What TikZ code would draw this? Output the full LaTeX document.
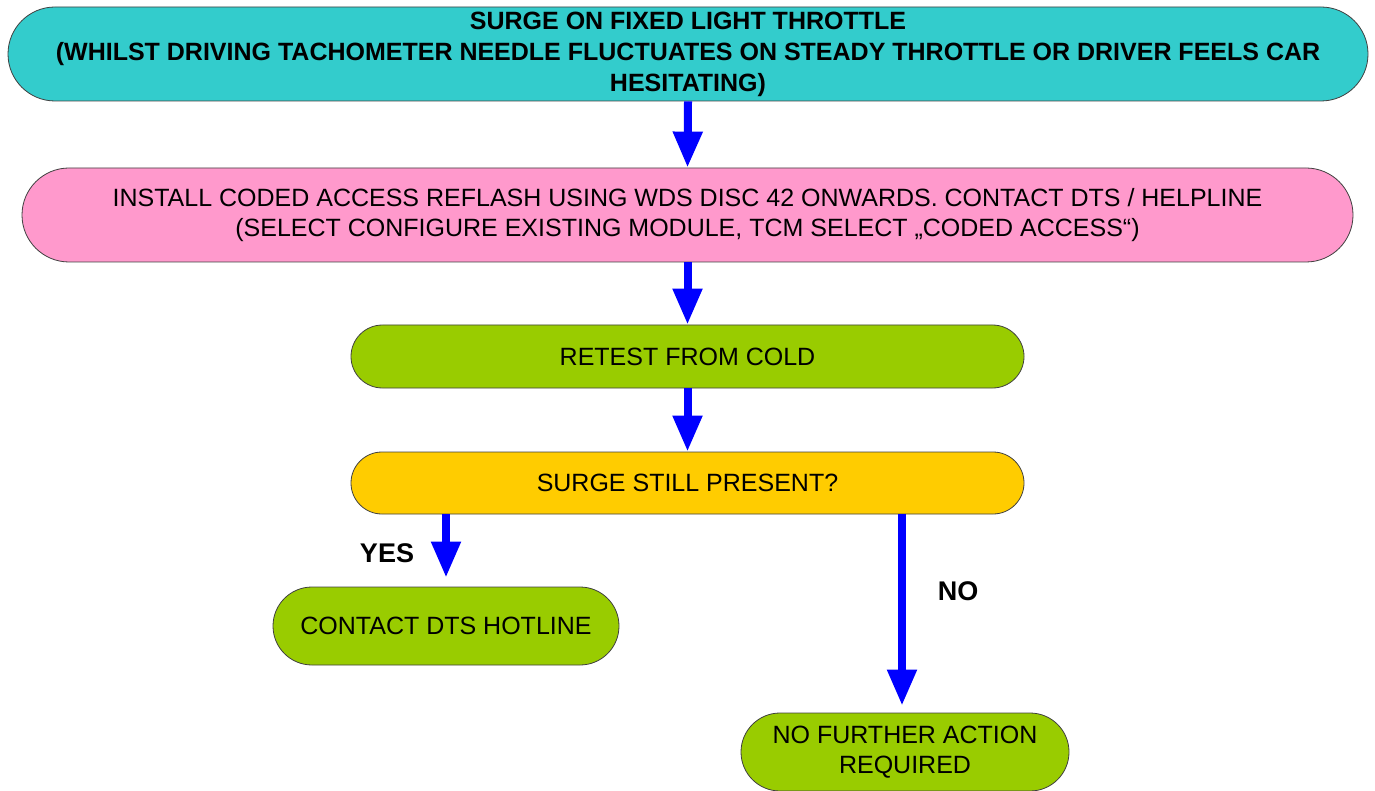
\documentclass[tikz,border=0pt]{standalone}
\usepackage{fontspec}
\setmainfont{Liberation Sans}
\usetikzlibrary{arrows.meta}
\definecolor{cteal}{HTML}{33CCCC}
\definecolor{cpink}{HTML}{FF99CC}
\definecolor{cgreen}{HTML}{99CC00}
\definecolor{cyellow}{HTML}{FFCC00}
\definecolor{cblue}{HTML}{0000FF}
\begin{document}
\begin{tikzpicture}[x=1pt,y=-1pt,
  box/.style={draw=black!75, line width=0.8pt, inner sep=0pt, align=center,
    font=\fontsize{25}{30}\selectfont},
  arr/.style={draw=cblue, line width=8pt,
    -{Triangle[width=28pt,length=36pt]}, fill=cblue},
  lbl/.style={font=\fontsize{27}{30}\selectfont\bfseries, inner sep=0pt}]
\useasboundingbox (0,0) rectangle (1375,791);
\node[box, fill=cteal, minimum width=1360pt, minimum height=94pt, rounded corners=47pt,
  font=\fontsize{25}{31}\selectfont\bfseries] (n1) at (688,54)
  {SURGE ON FIXED LIGHT THROTTLE\\
   (WHILST DRIVING TACHOMETER NEEDLE FLUCTUATES ON STEADY THROTTLE OR DRIVER FEELS CAR\\
   HESITATING)};
\node[box, fill=cpink, minimum width=1331pt, minimum height=94pt, rounded corners=47pt] (n2) at (687.5,215)
  {INSTALL CODED ACCESS REFLASH USING WDS DISC 42 ONWARDS. CONTACT DTS / HELPLINE\\
   (SELECT CONFIGURE EXISTING MODULE, TCM SELECT „CODED ACCESS“)};
\node[box, fill=cgreen, minimum width=673pt, minimum height=63pt, rounded corners=31.5pt] (n3) at (687.5,356.5)
  {RETEST FROM COLD};
\node[box, fill=cyellow, minimum width=673pt, minimum height=62pt, rounded corners=31pt] (n4) at (687.5,483)
  {SURGE STILL PRESENT?};
\node[box, fill=cgreen, minimum width=346pt, minimum height=78pt, rounded corners=39pt] (n5) at (446,626)
  {CONTACT DTS HOTLINE};
\node[box, fill=cgreen, minimum width=328pt, minimum height=78pt, rounded corners=39pt] (n6) at (905,752)
  {NO FURTHER ACTION\\REQUIRED};
\draw[arr] (n1.south) -- (n2.north);
\draw[arr] (n2.south) -- (n3.north);
\draw[arr] (n3.south) -- (n4.north);
\draw[arr, shorten >=9pt] (n5.north |- n4.south) -- (n5.north);
\coordinate (nox) at (902,0);
\draw[arr, shorten >=7pt] (nox |- n4.south) -- (nox |- n6.north);
\node[lbl] (yes) at (387,553) {YES};
\node[lbl] (no) at (958,591) {NO};
\end{tikzpicture}
\end{document}
